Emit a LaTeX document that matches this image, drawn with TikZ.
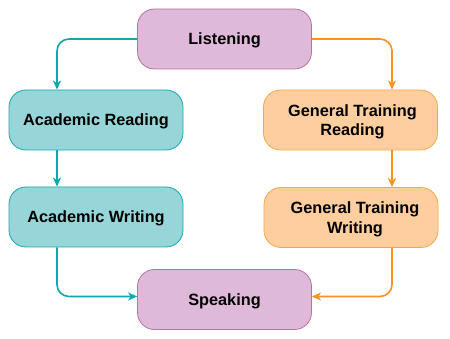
\documentclass[tikz,border=0pt]{standalone}
\usepackage{fontspec}
\setmainfont{Liberation Sans}
\usetikzlibrary{arrows.meta}
\definecolor{pfill}{HTML}{DFB9D9}
\definecolor{pdraw}{HTML}{B5739D}
\definecolor{tfill}{HTML}{97D6D8}
\definecolor{tdraw}{HTML}{1AA6AD}
\definecolor{tline}{HTML}{0FA8B0}
\definecolor{ofill}{HTML}{FFCE9E}
\definecolor{odraw}{HTML}{F5A74F}
\definecolor{oline}{HTML}{F7931E}
\begin{document}
\begin{tikzpicture}[x=1pt,y=-1pt,
  box/.style={rectangle,rounded corners=17pt,minimum width=174pt,minimum height=60pt,
    line width=0.8pt,align=center,inner sep=0pt,text height=11.7pt,text depth=0pt,
    font=\bfseries\fontsize{16.3}{19.5}\selectfont},
  twoline/.style={text height=31.2pt,text depth=0pt},
  pbox/.style={box,fill=pfill,draw=pdraw},
  tbox/.style={box,fill=tfill,draw=tdraw},
  obox/.style={box,fill=ofill,draw=odraw},
  conn/.style={line width=1.6pt,rounded corners=12pt,-{Stealth[length=9pt,width=8pt,inset=2.5pt]}},
]
\useasboundingbox (0,0) rectangle (450,339);
\node[pbox] (L) at (224.5,39) {Listening};
\node[tbox] (AR) at (96,120) {Academic Reading};
\node[tbox] (AW) at (96,217) {Academic Writing};
\node[obox,twoline] (GR) at (350.5,120) {\hspace{4pt}General Training\\\hspace{4pt}Reading};
\node[obox,twoline] (GW) at (351,217.5) {\hspace{8pt}General Training\\\hspace{8pt}Writing};
\node[pbox] (S) at (224.5,299.5) {Speaking};

\draw[conn,draw=tline] (L.west) -| ([xshift=-39pt]AR.north);
\draw[conn,draw=tline] ([xshift=-39pt]AR.south) -- ([xshift=-39pt]AW.north);
\draw[conn,draw=tline] ([xshift=-39pt]AW.south) |- ([yshift=3pt]S.west);
\draw[conn,draw=oline] (L.east) -| ([xshift=41.5pt]GR.north);
\draw[conn,draw=oline] ([xshift=41.5pt]GR.south) -- ([xshift=41pt]GW.north);
\draw[conn,draw=oline] ([xshift=41pt]GW.south) |- ([yshift=3pt]S.east);
\end{tikzpicture}
\end{document}
